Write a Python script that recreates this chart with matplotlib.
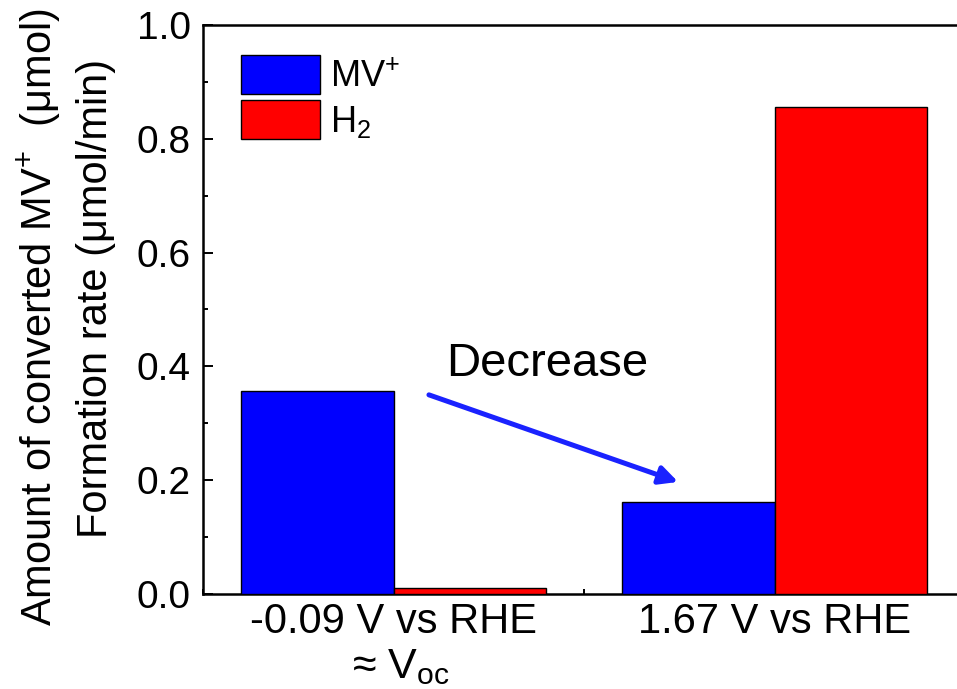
import numpy as np
import matplotlib
matplotlib.use("Agg")
import matplotlib.pyplot as plt
from matplotlib.ticker import MultipleLocator
import matplotlib.transforms as mtransforms

# ---- Data ----
conditions = ["-0.09 V vs RHE", "1.67 V vs RHE"]
mv_values = [0.357, 0.161]
h2_values = [0.010, 0.856]
series_labels = ["MV$^{+}$", "H$_{2}$"]

plt.rcParams["font.family"] = ["Liberation Sans", "DejaVu Sans"]
plt.rcParams["mathtext.fontset"] = "custom"
plt.rcParams["mathtext.rm"] = "Liberation Sans"
plt.rcParams["mathtext.it"] = "Liberation Sans:italic"
plt.rcParams["mathtext.default"] = "regular"


def main():
    fig = plt.figure(figsize=(9.57, 6.89), dpi=100)
    ax = fig.add_axes([203 / 957, 95 / 689, 762 / 957, 569 / 689])

    x = np.arange(len(conditions))
    width = 0.4
    ax.bar(x - width / 2, mv_values, width, color="#0000ff", edgecolor="black",
           linewidth=1.0, label=series_labels[0], zorder=3)
    ax.bar(x + width / 2, h2_values, width, color="#ff0000", edgecolor="black",
           linewidth=1.0, label=series_labels[1], zorder=3)

    ax.set_xlim(-0.5, 1.5)
    ax.set_ylim(0, 1.0)
    ax.set_xticks(x)
    ax.set_xticklabels(conditions, fontsize=30)
    ax.xaxis.set_minor_locator(MultipleLocator(1.0, offset=0.5))
    ax.yaxis.set_major_locator(MultipleLocator(0.2))
    ax.yaxis.set_minor_locator(MultipleLocator(0.1))
    ax.yaxis.set_major_formatter(matplotlib.ticker.FormatStrFormatter("%.1f"))

    for side in ["left", "bottom", "top"]:
        ax.spines[side].set_linewidth(1.8)
    ax.spines["right"].set_visible(False)

    ax.tick_params(axis="both", which="major", direction="in", length=7.2, width=1.4)
    ax.tick_params(axis="both", which="minor", direction="in", length=3.6, width=1.4)
    ax.tick_params(axis="y", labelsize=28, pad=9)
    ax.tick_params(axis="x", pad=6)

    # second line under the first tick label
    trans = mtransforms.blended_transform_factory(ax.transData, ax.transAxes)
    ax.text(0.02, -0.148, "≈ V$_{oc}$", transform=trans, fontsize=31,
            ha="center", va="baseline")

    # two-line y label
    fig.text(52 / 957, 1 - 317 / 689, "Amount of converted MV$^{+}$  (μmol)",
             rotation=90, rotation_mode="anchor", ha="center", va="baseline",
             fontsize=30)
    fig.text(107 / 957, 1 - 298 / 689, "Formation rate (μmol/min)",
             rotation=90, rotation_mode="anchor", ha="center", va="baseline",
             fontsize=30)

    # arrow and note
    ax.annotate("", xy=(0.747, 0.197), xytext=(0.093, 0.350),
                arrowprops=dict(arrowstyle="-|>,head_length=1.1,head_width=0.55",
                                color="#1a22ff", lw=3.6, shrinkA=0, shrinkB=0))
    ax.text(0.138, 0.383, "Decrease", fontsize=34, ha="left", va="baseline")

    ax.legend(loc="upper left", bbox_to_anchor=(0.05, 0.947), frameon=False,
              fontsize=26, handlelength=2.19, handleheight=1.285,
              labelspacing=0.15, handletextpad=0.28, borderpad=0,
              borderaxespad=0)

    fig.savefig("out.png", dpi=100)
    plt.close(fig)


if __name__ == "__main__":
    main()
